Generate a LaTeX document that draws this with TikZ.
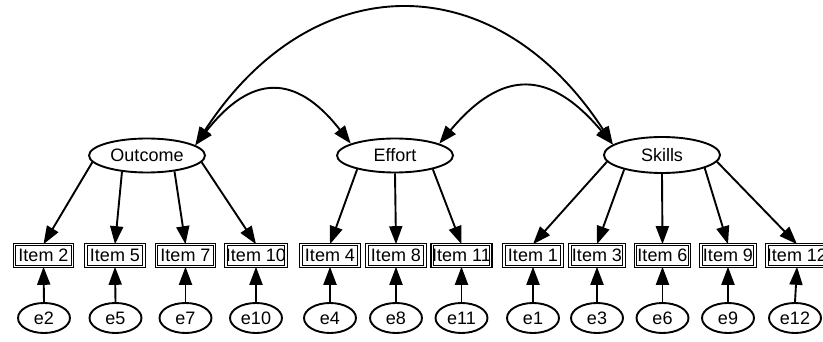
\documentclass[tikz,border=0pt]{standalone}
\usepackage{fontspec}
\setmainfont{Liberation Sans}
\usetikzlibrary{arrows.meta,shapes.geometric}
\begin{document}
\begin{tikzpicture}[x=1pt,y=1pt,
  font=\fontsize{18}{21}\selectfont,
  latent/.style={draw, ellipse, line width=1.9pt, minimum width=116pt, minimum height=34pt, inner sep=0pt},
  errv/.style={draw, ellipse, line width=1.9pt, minimum width=52pt, minimum height=30pt, inner sep=0pt},
  item/.style={draw, double, double distance=1.2pt, line width=1.1pt, minimum width=58pt, minimum height=21.5pt, inner sep=0pt},
  arr/.style={line width=1.9pt, -{Triangle[length=18pt,width=13pt]}},
  biarr/.style={line width=1.9pt, {Triangle[length=18pt,width=13pt]}-{Triangle[length=18pt,width=13pt]}}
]
\useasboundingbox (0,0) rectangle (823,-342);
% latent variables
\node[latent] (Outcome) at (147,-155.5) {Outcome};
\node[latent] (Effort) at (395,-155.5) {Effort};
\node[latent, minimum height=36pt] (Skills) at (662,-155) {Skills};
% items
\node[item] (i2) at (43.5,-255.5) {Item 2};
\node[item] (i5) at (115,-255.5) {Item 5};
\node[item] (i7) at (185.5,-255.5) {Item 7};
\node[item] (i10) at (256,-255.5) {Item 10};
\node[item] (i4) at (330,-255.5) {Item 4};
\node[item] (i8) at (396,-255.5) {Item 8};
\node[item] (i11) at (461.5,-255.5) {Item 11};
\node[item] (i1) at (533,-255.5) {Item 1};
\node[item, minimum width=54pt] (i3) at (597,-255.5) {Item 3};
\node[item, minimum width=54pt] (i6) at (662.5,-255.5) {Item 6};
\node[item, minimum width=54pt] (i9) at (728,-255.5) {Item 9};
\node[item] (i12) at (797,-255.5) {Item 12};
% errors
\node[errv] (e2) at (44,-318) {e2};
\node[errv] (e5) at (115.5,-318) {e5};
\node[errv] (e7) at (185.5,-318) {e7};
\node[errv] (e10) at (256,-318) {e10};
\node[errv] (e4) at (330,-318) {e4};
\node[errv] (e8) at (396,-318) {e8};
\node[errv] (e11) at (461.5,-318) {e11};
\node[errv] (e1) at (533,-318) {e1};
\node[errv] (e3) at (597,-318) {e3};
\node[errv] (e6) at (662.5,-318) {e6};
\node[errv] (e9) at (728,-318) {e9};
\node[errv] (e12) at (795,-318) {e12};
% loadings
\draw[arr] (Outcome.187) -- (i2.north);
\draw[arr] (Outcome.213) -- (i5.north);
\draw[arr] (Outcome.330) -- (i7.north);
\draw[arr] (Outcome.353) -- (i10.north);
\draw[arr] (Effort.200) -- (i4.north);
\draw[arr] (Effort.270) -- (i8.north);
\draw[arr] (Effort.340) -- (i11.north);
\draw[arr] (Skills.187) -- (i1.north);
\draw[arr] (Skills.201) -- (i3.north);
\draw[arr] (Skills.270) -- (i6.north);
\draw[arr] (Skills.343) -- (i9.north);
\draw[arr] (Skills.353) -- (i12.north);
% error arrows
\foreach \n in {2,5,7,10,4,8,11,1,3,6,9,12}
  \draw[arr] (e\n.north) -- (i\n.south);
% covariances
\draw[biarr] (Outcome.12) .. controls +(52:90) and +(128:90) .. (Effort.165);
\draw[biarr] (Effort.15) .. controls +(50:98) and +(130:98) .. (Skills.168);
\draw[biarr] (Outcome.12) .. controls +(57:215) and +(123:215) .. (Skills.168);
\end{tikzpicture}
\end{document}
